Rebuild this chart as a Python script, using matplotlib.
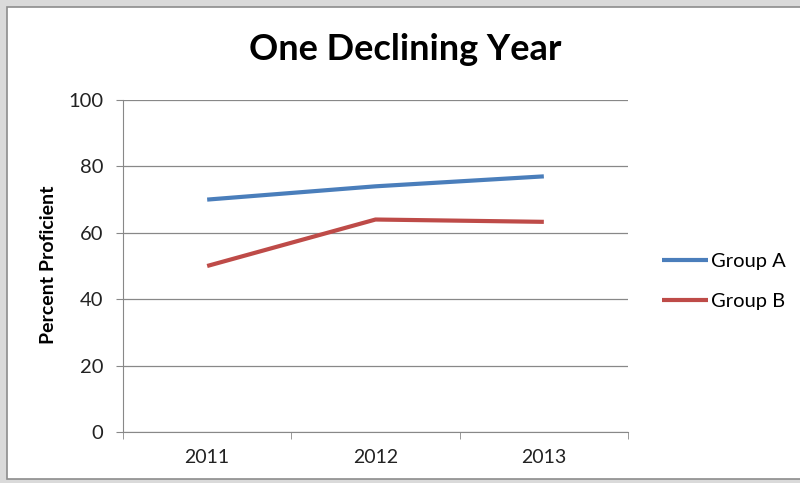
import matplotlib.pyplot as plt
from matplotlib.patches import Rectangle

years = ['2011', '2012', '2013']
group_a = [70, 74, 77]
group_b = [50, 64, 63.3]
series_names = ['Group A', 'Group B']
colors = ['#4A7EBB', '#BE4B48']

plt.rcParams['font.family'] = ['Lato', 'DejaVu Sans']

W, H = 800, 483
fig = plt.figure(figsize=(8, 4.83), dpi=100, facecolor='#dadada')
# white chart area with grey frame
frame = Rectangle((7 / W, 4 / H), 1, 1 - 11 / H,
                  transform=fig.transFigure, facecolor='white',
                  edgecolor='#8c8c8c', lw=1.2, zorder=-10)
fig.patches.append(frame)

ax = fig.add_axes([123 / W, 1 - 432 / H, 505 / W, 332 / H])
ax.patch.set_alpha(0)
x = range(len(years))
for vals, name, c in zip([group_a, group_b], series_names, colors):
    ax.plot(x, vals, color=c, lw=3, label=name, solid_capstyle='butt')

ax.set_xlim(-0.5, len(years) - 0.5)
ax.set_ylim(0, 100)
ax.set_yticks(range(0, 101, 20))
ax.set_xticks(x)
ax.set_xticklabels(years)
ax.set_xticks([-0.5, 0.5, 1.5, 2.5], minor=True)
ax.tick_params(axis='x', which='major', length=0, pad=12, labelsize=14)
ax.tick_params(axis='x', which='minor', length=5, color='#888888')
ax.tick_params(axis='y', length=5, color='#888888', labelsize=14.5,
               pad=9, labelcolor='#222222')
ax.tick_params(axis='x', labelcolor='#222222')
ax.grid(axis='y', color='#888888', lw=0.9)
ax.set_axisbelow(True)
for s in ['top', 'right']:
    ax.spines[s].set_visible(False)
for s in ['left', 'bottom']:
    ax.spines[s].set_color('#888888')

fig.text(49 / W, 1 - 265 / H, 'Percent Proficient', fontsize=14,
         fontweight='bold', rotation=90, ha='center', va='center')
fig.text(405 / W, 1 - 50 / H, 'One Declining Year', fontsize=26,
         fontweight='bold', ha='center', va='center')

ax.legend(loc='upper left', bbox_to_anchor=(654 / W, 1 - 245 / H),
          bbox_transform=fig.transFigure, borderaxespad=0, frameon=False,
          fontsize=14.5, handlelength=2.3, handletextpad=0.15,
          labelspacing=1.15)

fig.savefig('out.png', dpi=100, facecolor=fig.get_facecolor())
